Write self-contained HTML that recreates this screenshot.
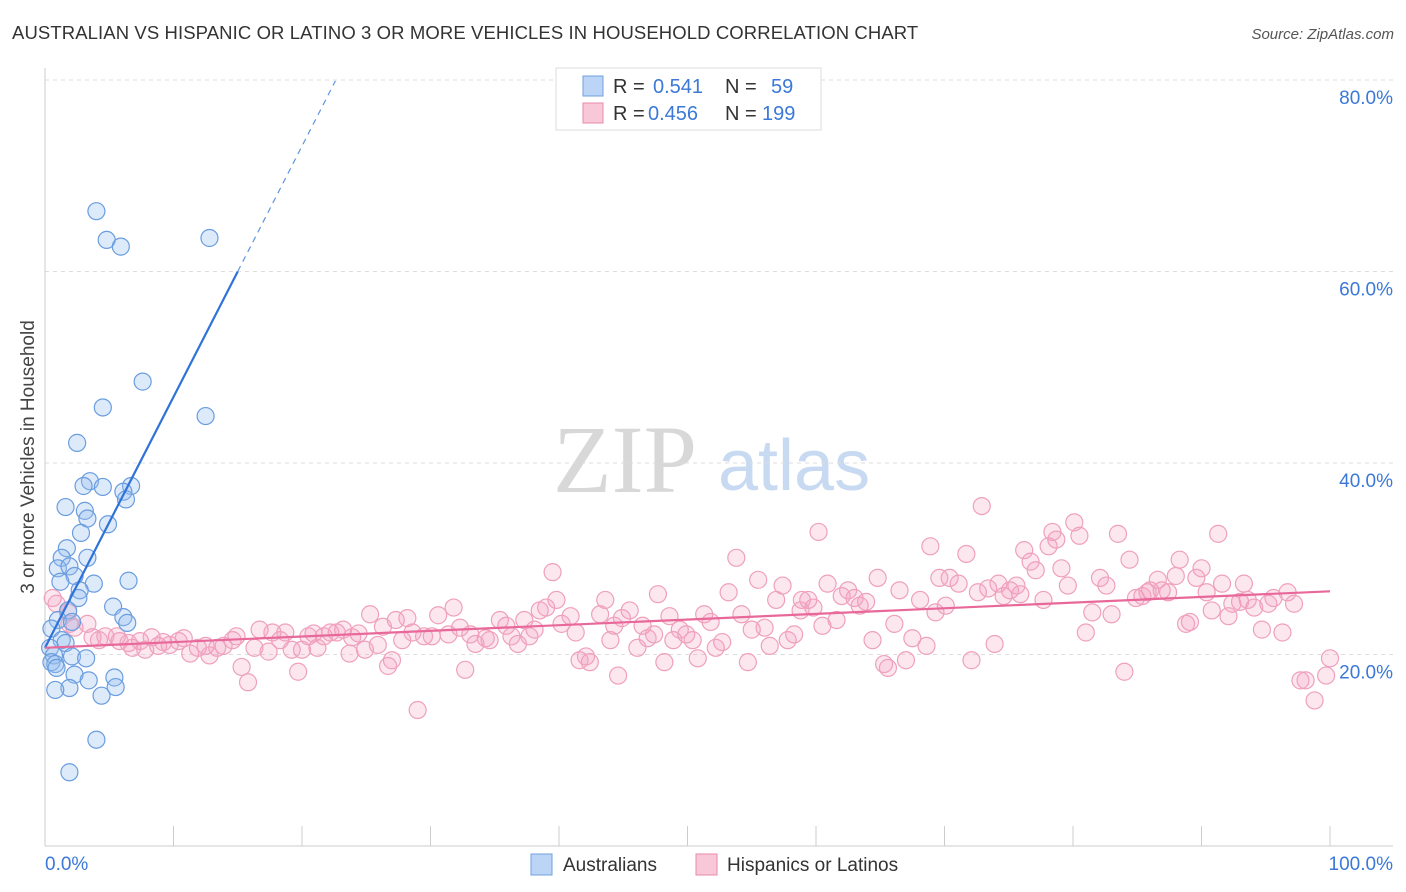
<!DOCTYPE html>
<html><head><meta charset="utf-8">
<style>
body{margin:0;background:#fff;font-family:"Liberation Sans",sans-serif;}
svg{display:block}
</style></head>
<body>
<svg id="chart" width="1406" height="892">
<text x="12" y="39" font-size="18.5" letter-spacing="0.1" fill="#333">AUSTRALIAN VS HISPANIC OR LATINO 3 OR MORE VEHICLES IN HOUSEHOLD CORRELATION CHART</text>
<text x="1394" y="39" font-size="15" fill="#555" font-style="italic" text-anchor="end">Source: ZipAtlas.com</text>
<text x="0" y="0" font-size="19" fill="#444" transform="translate(34,457) rotate(-90)" text-anchor="middle">3 or more Vehicles in Household</text>
<g>
<text x="553" y="492" font-size="96" font-family="Liberation Serif,serif" fill="#d8d8d8">ZIP</text>
<text x="718" y="490" font-size="72" fill="#c8daf2">atlas</text>
</g>
<g id="grid"></g>
<g id="axes"></g>
<g id="pink"></g>
<g id="blue"></g>
<g id="lines"></g>
<g>
<rect x="556" y="68" width="265" height="62" fill="#fff" stroke="#ddd"/>
<rect x="583" y="76" width="20" height="20" fill="#bcd4f5" stroke="#6fa0e0"/>
<text x="613" y="93" font-size="20" fill="#333">R = </text><text x="653" y="93" font-size="20" fill="#3b78d8">0.541</text>
<text x="725" y="93" font-size="20" fill="#333">N = </text><text x="771" y="93" font-size="20" fill="#3b78d8">59</text>
<rect x="583" y="103" width="20" height="20" fill="#f9c8d8" stroke="#e88aaa"/>
<text x="613" y="120" font-size="20" fill="#333">R = </text><text x="648" y="120" font-size="20" fill="#3b78d8">0.456</text>
<text x="725" y="120" font-size="20" fill="#333">N = </text><text x="762" y="120" font-size="20" fill="#3b78d8">199</text>
</g>
<g>
<rect x="531" y="854" width="21" height="21" fill="#bcd4f5" stroke="#6fa0e0"/>
<text x="563" y="871" font-size="19" fill="#333">Australians</text>
<rect x="696" y="854" width="21" height="21" fill="#f9c8d8" stroke="#e88aaa"/>
<text x="727" y="871" font-size="19" fill="#333">Hispanics or Latinos</text>
</g>
</svg>
<script>
const yTicks=[20,40,60,80];
const yTickLabels=["20.0%","40.0%","60.0%","80.0%"];
const xTicks=[0,10,20,30,40,50,60,70,80,90,100];
const blueX=[4.0,4.8,5.9,12.8,7.6,4.5,12.5,2.5,3.5,3.0,4.5,6.7,6.1,6.3,1.6,3.1,3.3,4.9,2.8,1.7,1.3,3.3,1.0,1.9,2.3,1.2,3.8,6.5,2.7,2.6,1.8,5.3,6.1,1.0,2.1,6.4,0.5,1.3,1.6,0.4,0.7,2.1,3.2,0.5,0.8,0.9,2.3,5.4,3.4,5.5,1.9,0.8,4.4,4.0,1.9];
const blueY=[66.3,63.3,62.6,63.5,48.5,45.8,44.9,42.1,38.1,37.6,37.5,37.6,37.0,36.2,35.4,35.0,34.2,33.6,32.7,31.1,30.1,30.1,29.0,29.2,28.2,27.6,27.4,27.7,26.7,25.9,24.6,25.0,23.9,23.6,23.4,23.3,22.7,21.5,21.2,20.7,19.9,19.8,19.6,19.2,19.0,18.6,17.9,17.6,17.3,16.6,16.5,16.3,15.7,11.1,7.7];
const pinkX=[0.6,0.9,1.8,1.9,2.3,3.3,3.7,4.2,4.7,5.6,5.8,6.5,6.8,7.4,7.8,8.3,8.8,9.2,9.7,10.4,10.8,11.3,11.9,12.5,12.8,13.4,13.9,14.6,14.9,15.3,15.8,16.3,16.7,17.4,17.7,18.3,18.7,19.2,19.7,20.0,20.5,20.9,21.2,21.7,22.2,22.7,23.2,23.7,23.9,24.4,24.9,25.3,25.9,26.3,26.7,27.0,27.3,27.8,28.2,28.6,29.0,29.5,30.1,30.6,31.4,31.8,32.3,32.7,33.1,33.5,34.3,34.6,35.4,35.9,36.3,36.8,37.3,37.7,38.1,38.5,39.0,39.5,39.8,40.2,40.9,41.3,41.6,42.1,42.4,43.2,43.6,44.0,44.3,44.6,44.9,45.5,46.1,46.5,46.9,47.4,47.7,48.2,48.6,48.9,49.4,49.9,50.4,50.8,51.3,51.8,52.2,52.7,53.2,53.8,54.2,54.7,55.0,55.5,56.0,56.4,56.9,57.4,57.8,58.3,58.8,58.9,59.4,59.8,60.2,60.5,60.9,61.6,62.0,62.5,63.0,63.4,63.9,64.4,64.8,65.3,65.6,66.1,66.5,67.0,67.5,68.1,68.6,68.9,69.3,69.6,70.1,70.4,71.1,71.7,72.1,72.6,72.9,73.4,73.9,74.2,74.6,75.1,75.6,75.9,76.2,76.7,77.1,77.7,78.1,78.4,78.7,79.1,79.6,80.1,80.5,81.0,81.5,82.1,82.6,83.0,83.5,84.0,84.4,84.9,85.4,85.8,86.0,86.6,86.9,87.4,88.0,88.3,88.8,89.1,89.6,90.0,90.4,90.8,91.3,91.6,92.1,92.4,93.0,93.3,93.6,94.1,94.7,95.2,95.6,96.3,96.7,97.2,97.7,98.1,98.8,99.7,100.0];
const pinkY=[25.9,25.3,24.4,23.2,22.8,23.2,21.8,21.5,21.9,21.9,21.4,21.2,20.7,21.4,20.5,21.8,20.9,21.3,21.0,21.4,21.7,20.1,20.7,20.9,19.9,20.7,20.9,21.5,21.9,18.7,17.1,20.7,22.6,20.3,22.3,21.5,22.3,20.5,18.2,20.5,21.9,22.2,20.7,21.9,22.3,22.3,22.6,20.1,21.8,22.2,20.5,24.2,21.0,22.9,18.8,19.4,23.6,21.5,23.8,22.3,14.2,21.9,21.9,24.1,22.1,24.9,22.8,18.4,22.1,21.1,21.7,21.5,23.6,23.0,21.9,21.1,23.6,21.9,22.6,24.6,24.9,28.6,25.7,23.2,24.0,22.3,19.4,19.8,19.2,24.2,25.7,21.5,23.0,17.8,23.8,24.6,20.7,23.0,21.7,22.1,26.3,19.2,24.0,21.5,22.6,22.1,21.5,19.6,24.2,23.4,20.7,21.3,26.5,30.1,24.2,19.2,22.6,27.8,22.8,20.9,25.7,27.2,21.5,22.1,24.6,25.7,25.7,24.9,32.8,23.0,27.4,23.6,26.1,26.7,25.9,25.1,25.5,21.5,28.0,19.0,18.6,23.2,26.7,19.4,21.7,25.7,20.9,31.3,24.4,28.0,25.1,28.0,27.4,30.5,19.4,26.5,35.5,26.9,21.1,27.4,26.1,26.7,27.2,26.3,30.9,29.7,28.8,25.7,31.3,32.8,32.0,29.0,27.2,33.8,32.4,22.3,24.4,28.0,27.2,24.2,32.6,18.2,29.9,25.9,26.1,26.5,26.7,27.8,26.7,26.5,28.2,29.9,23.2,23.4,28.0,29.0,26.5,24.6,32.6,27.4,24.0,25.3,25.5,27.4,25.7,24.9,22.6,25.3,25.9,22.3,26.5,25.3,17.3,17.3,15.2,17.8,19.6];
const blueFit=[20.7,2.62];   // intercept, slope
const pinkFit=[20.7,0.059];

const NS="http://www.w3.org/2000/svg";
const X0=45,X1=1330,Y0=846,PXPER=9.575;
const sx=v=>X0+(X1-X0)*v/100;
const sy=v=>Y0-v*PXPER;
function mk(tag,attrs,parent){const e=document.createElementNS(NS,tag);for(const k in attrs)e.setAttribute(k,attrs[k]);parent.appendChild(e);return e;}
const grid=document.getElementById('grid'),axes=document.getElementById('axes');
yTicks.forEach((t,i)=>{
  const l=mk('line',{x1:45,x2:1393,y1:sy(t),y2:sy(t),stroke:'#ddd','stroke-dasharray':'4,4'},grid);
  
  
  const tx=mk('text',{x:1393,y:sy(t)+24,'font-size':19,fill:'#3b78d8','text-anchor':'end'},axes);
  tx.textContent=yTickLabels[i];
  
  
});
const ax=mk('line',{x1:45,x2:45,y1:68,y2:846,stroke:'#ccc'},axes);


const bx=mk('line',{x1:45,x2:1393,y1:846,y2:846,stroke:'#ccc'},axes);


xTicks.forEach(t=>{
  const l=mk('line',{x1:sx(t),x2:sx(t),y1:826,y2:846,stroke:'#ccc'},axes);
  
  
});
const xl0=mk('text',{x:45,y:870,'font-size':19,fill:'#3b78d8'},axes);xl0.textContent='0.0%';


const xl1=mk('text',{x:1393,y:870,'font-size':19,fill:'#3b78d8','text-anchor':'end'},axes);xl1.textContent='100.0%';



const pg=document.getElementById('pink');
pinkX.forEach((x,i)=>{
  const c=mk('circle',{cx:sx(x),cy:sy(pinkY[i]),r:8.5,fill:'rgba(245,160,190,0.25)',stroke:'#efa0bc','stroke-width':1.2},pg);
  
  
});
const bg=document.getElementById('blue');
blueX.forEach((x,i)=>{
  const c=mk('circle',{cx:sx(x),cy:sy(blueY[i]),r:8.5,fill:'rgba(150,190,240,0.32)',stroke:'#6a9de0','stroke-width':1.2},bg);
  
  
});
const lg=document.getElementById('lines');
const bEnd=15, bDash=22.6;
const b1=mk('line',{x1:sx(0),y1:sy(blueFit[0]),x2:sx(bEnd),y2:sy(blueFit[0]+blueFit[1]*bEnd),stroke:'#2f73d8','stroke-width':2.2},lg);


const b2=mk('line',{x1:sx(bEnd),y1:sy(blueFit[0]+blueFit[1]*bEnd),x2:sx(bDash),y2:sy(blueFit[0]+blueFit[1]*bDash),stroke:'#5f95de','stroke-width':1.2,'stroke-dasharray':'6,5'},lg);


const p1=mk('line',{x1:sx(0),y1:sy(pinkFit[0]),x2:sx(100),y2:sy(pinkFit[0]+pinkFit[1]*100),stroke:'#e8689a','stroke-width':2.2},lg);


</script>
</body></html>
